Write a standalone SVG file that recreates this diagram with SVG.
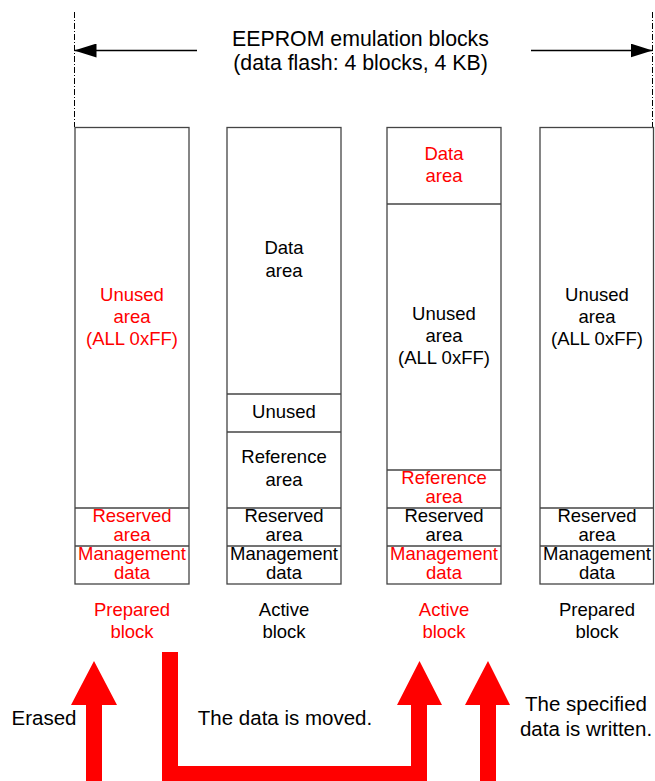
<svg xmlns="http://www.w3.org/2000/svg" width="655" height="781" viewBox="0 0 655 781">
  <style>
    text { font-family: "Liberation Sans", Arial, sans-serif; text-anchor: middle; }
    .t { font-size: 18.5px; fill: #000; }
    .r { fill: #ff0000; }
    .big { font-size: 20.5px; fill: #000; }
    .title { font-size: 21.3px; fill: #000; }
    .box { fill: #fff; stroke: #444; stroke-width: 1.3; }
    .div { stroke: #444; stroke-width: 1.3; fill: none; }
    .extent { stroke: #000; stroke-width: 1; stroke-dasharray: 6 2 1 2; fill: none; }
    .dim { stroke: #000; stroke-width: 1.3; fill: none; }
    .flow { fill: #ff0000; stroke: none; }
  </style>
  <defs>
    <marker id="dimHead" viewBox="0 0 22 14" refX="22" refY="7" markerWidth="22" markerHeight="14" markerUnits="userSpaceOnUse" orient="auto">
      <path d="M0,0 L22,7 L0,14 Z" fill="#000"/>
    </marker>
  </defs>

  <!-- overall extent of the emulation blocks -->
  <g id="extent">
    <line class="extent" x1="74.5" y1="12" x2="74.5" y2="127"/>
    <line class="extent" x1="652.5" y1="12" x2="652.5" y2="127"/>
    <line class="dim" x1="197" y1="50.5" x2="74.5" y2="50.5" marker-end="url(#dimHead)"/>
    <line class="dim" x1="531" y1="50.5" x2="652.5" y2="50.5" marker-end="url(#dimHead)"/>
    <text class="title" x="360.5" y="45.5">EEPROM emulation blocks</text>
    <text class="title" x="360.5" y="70">(data flash: 4 blocks, 4 KB)</text>
  </g>

  <!-- block 1: prepared block (erased) -->
  <g id="block1">
    <rect class="box" x="75" y="127.5" width="114" height="456.5"/>
    <line class="div" x1="75" y1="508" x2="189" y2="508"/>
    <line class="div" x1="75" y1="546" x2="189" y2="546"/>
    <text class="t r" x="132" y="301">Unused</text>
    <text class="t r" x="132" y="323">area</text>
    <text class="t r" x="132" y="345">(ALL 0xFF)</text>
    <text class="t r" x="132" y="522">Reserved</text>
    <text class="t r" x="132" y="541">area</text>
    <text class="t r" x="132" y="560">Management</text>
    <text class="t r" x="132" y="579">data</text>
    <text class="t r" x="132" y="616">Prepared</text>
    <text class="t r" x="132" y="638">block</text>
  </g>

  <!-- block 2: active block -->
  <g id="block2">
    <rect class="box" x="227" y="127.5" width="114" height="456.5"/>
    <line class="div" x1="227" y1="394" x2="341" y2="394"/>
    <line class="div" x1="227" y1="432" x2="341" y2="432"/>
    <line class="div" x1="227" y1="508" x2="341" y2="508"/>
    <line class="div" x1="227" y1="546" x2="341" y2="546"/>
    <text class="t" x="284" y="254">Data</text>
    <text class="t" x="284" y="277">area</text>
    <text class="t" x="284" y="418">Unused</text>
    <text class="t" x="284" y="463">Reference</text>
    <text class="t" x="284" y="486">area</text>
    <text class="t" x="284" y="522">Reserved</text>
    <text class="t" x="284" y="541">area</text>
    <text class="t" x="284" y="560">Management</text>
    <text class="t" x="284" y="579">data</text>
    <text class="t" x="284" y="616">Active</text>
    <text class="t" x="284" y="638">block</text>
  </g>

  <!-- block 3: new active block -->
  <g id="block3">
    <rect class="box" x="387" y="127.5" width="114" height="456.5"/>
    <line class="div" x1="387" y1="204" x2="501" y2="204"/>
    <line class="div" x1="387" y1="470" x2="501" y2="470"/>
    <line class="div" x1="387" y1="508" x2="501" y2="508"/>
    <line class="div" x1="387" y1="546" x2="501" y2="546"/>
    <text class="t r" x="444" y="160">Data</text>
    <text class="t r" x="444" y="182">area</text>
    <text class="t" x="444" y="320">Unused</text>
    <text class="t" x="444" y="342">area</text>
    <text class="t" x="444" y="364">(ALL 0xFF)</text>
    <text class="t r" x="444" y="484">Reference</text>
    <text class="t r" x="444" y="503">area</text>
    <text class="t" x="444" y="522">Reserved</text>
    <text class="t" x="444" y="541">area</text>
    <text class="t r" x="444" y="560">Management</text>
    <text class="t r" x="444" y="579">data</text>
    <text class="t r" x="444" y="616">Active</text>
    <text class="t r" x="444" y="638">block</text>
  </g>

  <!-- block 4: prepared block -->
  <g id="block4">
    <rect class="box" x="540" y="127.5" width="113.5" height="456.5"/>
    <line class="div" x1="540" y1="508" x2="653.5" y2="508"/>
    <line class="div" x1="540" y1="546" x2="653.5" y2="546"/>
    <text class="t" x="597" y="301">Unused</text>
    <text class="t" x="597" y="323">area</text>
    <text class="t" x="597" y="345">(ALL 0xFF)</text>
    <text class="t" x="597" y="522">Reserved</text>
    <text class="t" x="597" y="541">area</text>
    <text class="t" x="597" y="560">Management</text>
    <text class="t" x="597" y="579">data</text>
    <text class="t" x="597" y="616">Prepared</text>
    <text class="t" x="597" y="638">block</text>
  </g>

  <!-- operation arrows -->
  <g id="connectors">
    <polygon class="flow" points="86,781 86,705 71,705 94,661 117,705 102,705 102,781"/>
    <polygon class="flow" points="162,652 178,652 178,766 411,766 411,705 397,705 419.5,661 442,705 427,705 427,781 162,781"/>
    <polygon class="flow" points="480,781 480,705 465,705 488,661 510,705 496,705 496,781"/>
  </g>

  <g id="labels">
    <text class="big" x="44" y="725">Erased</text>
    <text class="big" x="285" y="725">The data is moved.</text>
    <text class="big" x="586" y="711">The specified</text>
    <text class="big" x="586" y="736">data is written.</text>
  </g>
</svg>
